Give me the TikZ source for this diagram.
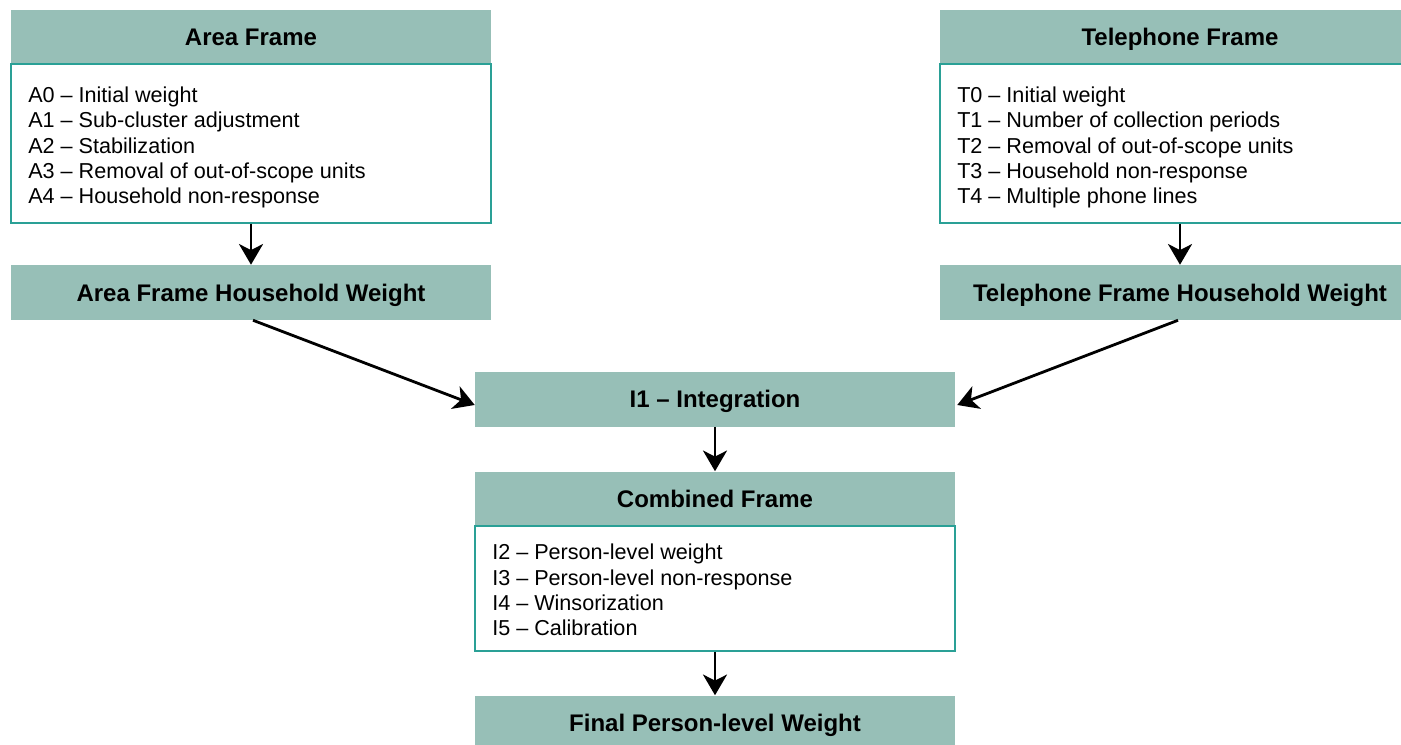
\documentclass[tikz,border=0pt]{standalone}
\usepackage{fontspec}
\setmainfont{Liberation Sans}
\usetikzlibrary{arrows.meta,calc}
\definecolor{hdr}{RGB}{151,191,183}
\definecolor{bord}{RGB}{42,160,150}
\begin{document}
\begin{tikzpicture}[x=0.75pt,y=-0.75pt,
  hdrbox/.style={fill=hdr,draw=none,minimum width=360pt,minimum height=41.25pt,inner sep=0pt,
    text height=13pt,text depth=0pt,
    font=\fontsize{18}{21}\selectfont\bfseries},
  bodybox/.style={draw=bord,line width=0.8pt,fill=white,minimum width=360pt,inner sep=0pt},
  bodytext/.style={anchor=west,align=left,inner sep=0pt,font=\fontsize{16.2}{19.05}\selectfont},
  conn/.style={line width=2.1pt,-{Stealth[length=15.5pt,width=18pt,inset=4.5pt]}}]
\clip (0,0) rectangle (1401,745);
\fill[white] (0,0) rectangle (1401,745);
% Area frame
\node[hdrbox] (ahdr) at (251,37.3) {Area Frame};
\node[bodybox,minimum height=119.25pt] (abody) at (251,143.5) {};
\node[bodytext] (atext) at (28,147.5) {A0 – Initial weight\\A1 – Sub-cluster adjustment\\A2 – Stabilization\\A3 – Removal of out-of-scope units\\A4 – Household non-response};
\node[hdrbox] (ahh) at (251,292.5) {Area Frame Household Weight};
% Telephone frame
\node[hdrbox] (thdr) at (1180,37.3) {Telephone Frame};
\node[bodybox,minimum height=119.25pt] (tbody) at (1180,143.5) {};
\node[bodytext] (ttext) at (957,147.5) {T0 – Initial weight\\T1 – Number of collection periods\\T2 – Removal of out-of-scope units\\T3 – Household non-response\\T4 – Multiple phone lines};
\node[hdrbox] (thh) at (1180,292.5) {Telephone Frame Household Weight};
% Integration
\node[hdrbox] (i1) at (715,399) {I1 – Integration};
\node[hdrbox] (chdr) at (715,499) {Combined Frame};
\node[bodybox,minimum height=93.75pt] (cbody) at (715,588.5) {};
\node[bodytext] (ctext) at (492,590) {I2 – Person-level weight\\I3 – Person-level non-response\\I4 – Winsorization\\I5 – Calibration};
\node[hdrbox] (fin) at (715,723) {Final Person-level Weight};
% connectors
\draw[conn] (abody.south) -- (ahh.north);
\draw[conn] (tbody.south) -- (thh.north);
\draw[conn] ($(ahh.south)+(2,0)$) -- ($(i1.west)+(0,6)$);
\draw[conn] ($(thh.south)+(-2,0)$) -- ($(i1.east)+(2,6)$);
\draw[conn] (i1.south) -- (chdr.north);
\draw[conn] (cbody.south) -- (fin.north);
\end{tikzpicture}
\end{document}
